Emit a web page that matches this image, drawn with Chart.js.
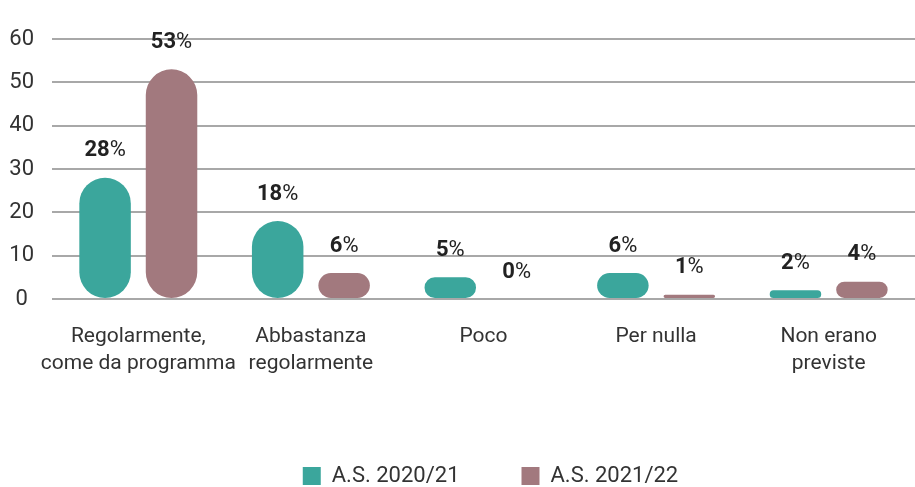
<!DOCTYPE html>
<html>
<head>
<meta charset="utf-8">
<script src="https://cdn.jsdelivr.net/npm/chart.js@4"></script>
<style>
  html, body { margin: 0; padding: 0; background: #fff; }
  #wrap { width: 915px; height: 487px; }
</style>
</head>
<body>
<div id="wrap"><canvas id="chart" width="915" height="487"></canvas></div>
<script>
// Data
const categories = [
    ['Regolarmente,', 'come da programma'],
    ['Abbastanza', 'regolarmente'],
    'Poco',
    'Per nulla',
    ['Non erano', 'previste'],
];
const seriesNames = ['A.S. 2020/21', 'A.S. 2021/22'];
const values2021 = [28, 18, 5, 6, 2];
const values2122 = [53, 6, 0, 1, 4];
const yTicks = [0, 10, 20, 30, 40, 50, 60];

const teal = '#3ba69c';
const mauve = '#a2797e';
const textColor = '#333333';
const fontFamily = 'Roboto, "Noto Sans", sans-serif';

// draws "28%" above each bar: bold number, regular percent sign
const valueLabels = {
    id: 'valueLabels',
    afterDatasetsDraw(chart) {
        const ctx = chart.ctx;
        ctx.save();
        ctx.fillStyle = '#222';
        ctx.textBaseline = 'middle';
        ctx.textAlign = 'left';
        chart.data.datasets.forEach((ds, di) => {
            chart.getDatasetMeta(di).data.forEach((bar, i) => {
                const num = String(ds.data[i]);
                ctx.font = 'bold 22px ' + fontFamily;
                const w1 = ctx.measureText(num).width;
                ctx.font = '22px ' + fontFamily;
                const w2 = ctx.measureText('%').width;
                const x = bar.x - (w1 + w2) / 2;
                const y = bar.y - 27;
                ctx.font = 'bold 22px ' + fontFamily;
                ctx.fillText(num, x, y);
                ctx.font = '22px ' + fontFamily;
                ctx.fillText('%', x + w1, y);
            });
        });
        ctx.restore();
    }
};

// category labels drawn by hand so they can hang past the plot's left edge
const categoryLabels = {
    id: 'categoryLabels',
    afterDraw(chart) {
        const ctx = chart.ctx;
        const xs = chart.scales.x;
        ctx.save();
        ctx.fillStyle = textColor;
        ctx.font = '21px ' + fontFamily;
        ctx.textAlign = 'center';
        ctx.textBaseline = 'middle';
        categories.forEach((lab, i) => {
            const lines = Array.isArray(lab) ? lab : [lab];
            const cx = xs.getPixelForTick(i);
            lines.forEach((line, j) => {
                ctx.fillText(line, cx, xs.top + 38 + j * 27);
            });
        });
        ctx.restore();
    }
};

// no 10px gap under the legend, and sit it a bit right of centre
const legendNudge = {
    id: 'legendNudge',
    beforeLayout(chart) {
        const legend = chart.legend;
        if (legend && !legend._nudged) {
            const fit = legend.fit;
            legend.fit = function () {
                fit.call(this);
                this.height -= 10;
            };
            legend._nudged = true;
        }
    },
    beforeDraw(chart) {
        const legend = chart.legend;
        if (legend) {
            legend.left += 28;
            legend.right += 28;
        }
    }
};

new Chart(document.getElementById('chart'), {
    type: 'bar',
    data: {
        labels: categories,
        datasets: [{
            label: seriesNames[0],
            data: values2021,
            backgroundColor: teal,
        }, {
            label: seriesNames[1],
            data: values2122,
            backgroundColor: mauve,
        }]
    },
    options: {
        responsive: false,
        animation: false,
        borderRadius: 26,
        borderSkipped: false,
        categoryPercentage: 0.77,
        barPercentage: 0.775,
        layout: {
            padding: { top: 39, left: 10, right: 0, bottom: 0 }
        },
        plugins: {
            tooltip: { enabled: false },
            legend: {
                position: 'bottom',
                labels: {
                    boxWidth: 18,
                    boxHeight: 18,
                    padding: 62,
                    color: textColor,
                    font: { family: fontFamily, size: 22 },
                }
            }
        },
        scales: {
            x: {
                grid: { display: false },
                border: { display: false },
                ticks: { display: false },
                afterFit: scale => { scale.height = 104; },
            },
            y: {
                min: 0,
                max: 60,
                afterBuildTicks: scale => { scale.ticks = yTicks.map(v => ({ value: v })); },
                afterFit: scale => { scale.width = 42; },
                border: { display: false },
                grid: { color: '#a8a8a8', lineWidth: 2, drawTicks: false },
                ticks: {
                    color: textColor,
                    crossAlign: 'center',
                    padding: 18,
                    font: { family: fontFamily, size: 22 },
                },
            }
        }
    },
    plugins: [valueLabels, categoryLabels, legendNudge]
});
</script>
</body>
</html>
